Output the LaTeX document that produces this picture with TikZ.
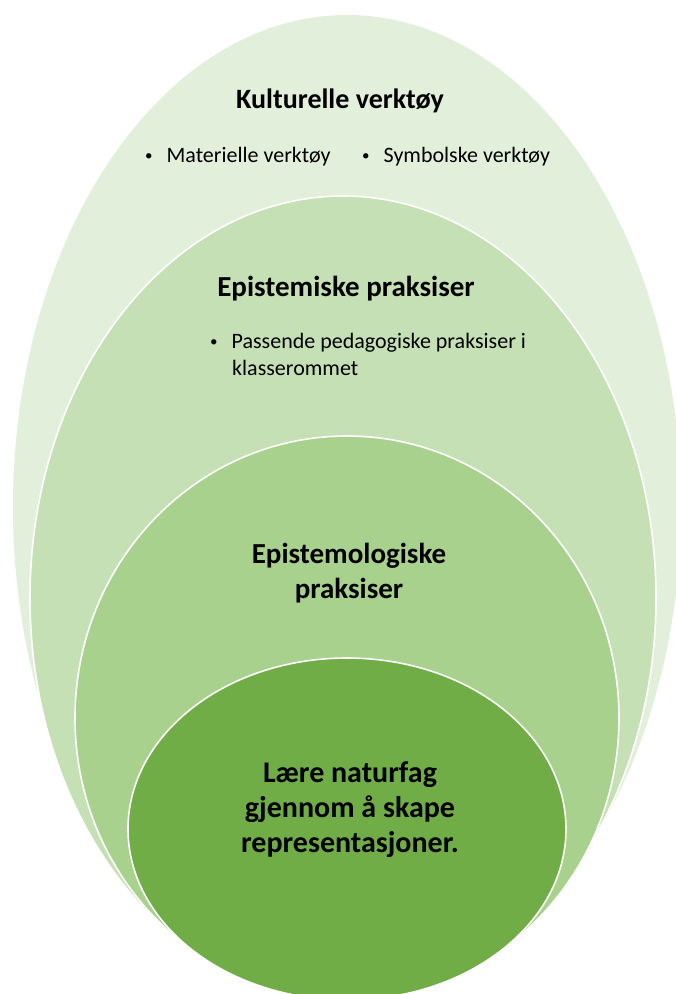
\documentclass[tikz,border=0pt]{standalone}
\usepackage{fontspec}
\setmainfont{Carlito}
\definecolor{gA}{HTML}{E2EFDA}
\definecolor{gB}{HTML}{C5E0B4}
\definecolor{gC}{HTML}{A9D18E}
\definecolor{gD}{HTML}{70AD47}
\newcommand{\smbul}{\raisebox{1.5pt}{\fontsize{15}{15}\selectfont •}}
\tikzset{
  layer/.style={draw=white, line width=1.6pt},
  title/.style={font=\fontsize{29}{35}\selectfont\bfseries, anchor=base, align=center, inner sep=0pt},
  item/.style={font=\fontsize{22}{27}\selectfont, anchor=base west, inner sep=0pt, align=left},
}
\begin{document}
\begin{tikzpicture}[x=1pt,y=-1pt]
\useasboundingbox (0,0) rectangle (676,994);
\clip (0,0) rectangle (676,994);
\fill[white] (0,0) rectangle (676,994);
\fill[gA] (347,507) ellipse [x radius=334pt, y radius=492pt];
\filldraw[gB, layer] (343,598) ellipse [x radius=313pt, y radius=402pt];
\filldraw[gC, layer] (347,718) ellipse [x radius=272pt, y radius=282pt];
\filldraw[gD, layer] (347,829) ellipse [x radius=219pt, y radius=171pt];
\node[title, font=\fontsize{28}{34}\selectfont\bfseries] (t1) at (340,108) {Kulturelle verktøy};
\node[item] (b1) at (145,162) {\smbul\hspace{14pt}Materielle verktøy};
\node[item] (b2) at (362,162) {\smbul\hspace{14pt}Symbolske verktøy};
\node[title] (t2) at (346,296) {Epistemiske praksiser};
\node[item] (b3) at (210,348) {\smbul\hspace{14pt}Passende pedagogiske praksiser i};
\node[item] (b4) at (232,375) {klasserommet};
\node[title] (t3) at (349,598) {Epistemologiske\\praksiser};
\node[title, font=\fontsize{30}{35}\selectfont\bfseries] (t4) at (350,852) {Lære naturfag\\gjennom å skape\\representasjoner.};
\end{tikzpicture}
\end{document}
